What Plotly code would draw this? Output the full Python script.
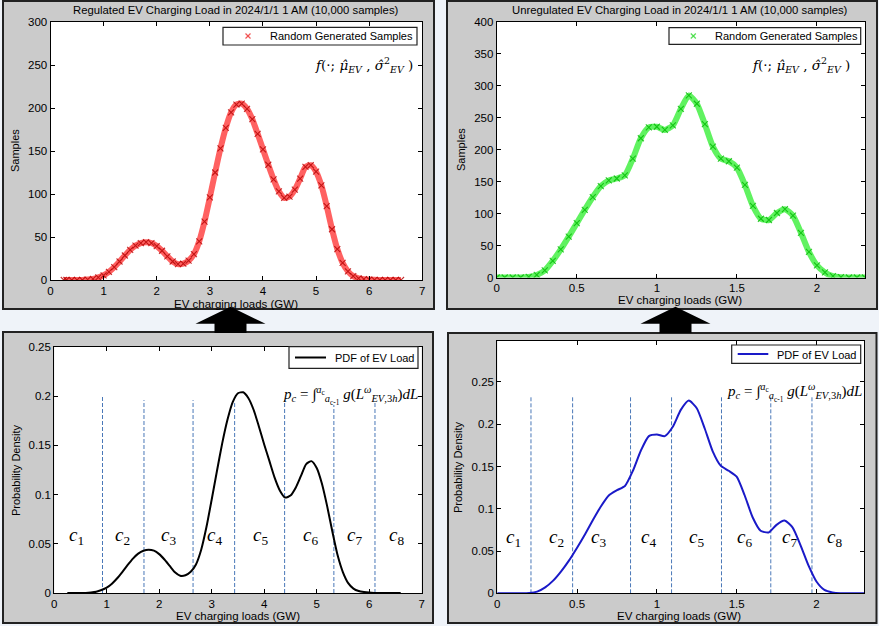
import plotly.graph_objects as go

# ---------------- data ----------------
reg_load = [0.25, 0.3, 0.4, 0.5, 0.6, 0.7, 0.8, 0.9, 1.0, 1.1, 1.2, 1.3, 1.4, 1.5, 1.6, 1.7, 1.8, 1.9,
            2.0, 2.1, 2.2, 2.3, 2.4, 2.5, 2.6, 2.7, 2.8, 2.9, 3.0, 3.1, 3.2, 3.3, 3.4, 3.5, 3.6, 3.7,
            3.8, 3.9, 4.0, 4.1, 4.2, 4.3, 4.4, 4.5, 4.6, 4.7, 4.8, 4.9, 5.0, 5.1, 5.2, 5.3, 5.4, 5.5,
            5.6, 5.7, 5.8, 5.9, 6.0, 6.1, 6.2, 6.3, 6.4, 6.5, 6.6]
reg_samples = [0, 0, 0, 0, 0, 0.5, 1.2, 3, 5.5, 9.5, 15, 21.5, 28.5, 35, 40, 43, 44, 43,
               39.5, 34, 27.5, 21.5, 18.5, 19, 22.5, 30, 45, 68, 96, 125, 153, 177, 195, 204, 205, 199,
               187, 170, 152, 134, 117, 103, 95.5, 97, 105, 118, 131.5, 133.5, 126, 110, 86, 59, 36, 20,
               10, 4.5, 2, 1, 0.5, 0.2, 0, 0, 0, 0, 0]
reg_pdf = [0, 0, 0, 0, 0, 0.0004, 0.0012, 0.003, 0.0055, 0.0095, 0.015, 0.0215, 0.0285, 0.035, 0.040, 0.043, 0.044, 0.043,
           0.0395, 0.034, 0.0275, 0.021, 0.0175, 0.018, 0.0215, 0.029, 0.044, 0.067, 0.095, 0.124, 0.152, 0.176, 0.194, 0.203, 0.204, 0.198,
           0.186, 0.169, 0.151, 0.134, 0.117, 0.104, 0.097, 0.099, 0.107, 0.119, 0.131, 0.134, 0.127, 0.111, 0.088, 0.062, 0.038, 0.021,
           0.010, 0.0045, 0.002, 0.001, 0.0004, 0.0001, 0, 0, 0, 0, 0]

unreg_load = [0.0, 0.05, 0.1, 0.15, 0.2, 0.25, 0.3, 0.35, 0.4, 0.45, 0.5, 0.55, 0.6, 0.65, 0.7, 0.75,
              0.8, 0.85, 0.9, 0.95, 1.0, 1.05, 1.1, 1.15, 1.2, 1.25, 1.3, 1.35, 1.4, 1.45, 1.5, 1.55,
              1.6, 1.65, 1.7, 1.75, 1.8, 1.85, 1.9, 1.95, 2.0, 2.05, 2.1, 2.15, 2.2, 2.25, 2.3]
unreg_samples = [0, 0, 0, 0, 1, 4, 11, 26, 44, 64, 85, 106, 126, 143, 152, 155,
                 160, 186, 218, 235, 236, 231, 238, 264, 285, 272, 240, 205, 186, 182, 172, 145,
                 112, 92, 90, 101, 107, 97, 70, 40, 19, 8, 2, 0.5, 0, 0, 0]
unreg_pdf = [0, 0, 0, 0, 0.0003, 0.002, 0.007, 0.015, 0.026, 0.039, 0.054, 0.070, 0.087, 0.103, 0.116, 0.122,
             0.127, 0.145, 0.169, 0.186, 0.188, 0.186, 0.197, 0.217, 0.228, 0.219, 0.195, 0.168, 0.151, 0.145, 0.138, 0.116,
             0.090, 0.074, 0.072, 0.081, 0.086, 0.078, 0.057, 0.033, 0.014, 0.004, 0.001, 0, 0, 0, 0]

reg_cuts = [0.92, 1.71, 2.645, 3.437, 4.389, 5.327, 6.11]
reg_cut_tops = [0.201, 0.196, 0.196, 0.193, 0.196, 0.191, 0.194]
unreg_cuts = [0.211, 0.472, 0.835, 1.092, 1.405, 1.714, 1.972]
unreg_cut_tops = [0.233, 0.233, 0.233, 0.233, 0.233, 0.233, 0.233]

cluster_names = ["1", "2", "3", "4", "5", "6", "7", "8"]
reg_label_x = [0.43, 1.31, 2.18, 3.06, 3.93, 4.88, 5.72, 6.52]
unreg_label_x = [0.10, 0.372, 0.632, 0.946, 1.249, 1.551, 1.833, 2.115]

reg_xticks = [0, 1, 2, 3, 4, 5, 6, 7]
unreg_xticks = [0, 0.5, 1, 1.5, 2]
samples_reg_yticks = [0, 50, 100, 150, 200, 250, 300]
samples_unreg_yticks = [0, 50, 100, 150, 200, 250, 300, 350, 400]
pdf_yticks = [0, 0.05, 0.1, 0.15, 0.2, 0.25]

legend_samples = "Random Generated Samples"
legend_pdf = "PDF of EV Load"

# ---------------- layout helpers ----------------
W, H = 879, 626
def px(x):
    return x / W
def py(y):
    return 1 - y / H

SANS = "Liberation Sans, Arial, sans-serif"
SERIF = "Liberation Serif, Times New Roman, serif"
MATH = "DejaVu Serif, Liberation Serif, serif"
PANEL = "#cbcbcb"
PAPER = "#eff3f9"
RED = "rgb(235,0,0)"
GREEN = "rgb(0,225,0)"

fig = go.Figure()

# top-left: regulated samples
fig.add_trace(go.Scatter(x=reg_load, y=reg_samples, mode="lines", xaxis="x", yaxis="y",
                         line=dict(color="rgba(255,0,0,0.62)", width=6, shape="spline", smoothing=0.6),
                         showlegend=False, hoverinfo="skip"))
fig.add_trace(go.Scatter(x=reg_load, y=reg_samples, mode="markers", xaxis="x", yaxis="y",
                         marker=dict(symbol="x-thin", size=6, color=RED, line=dict(color="rgba(180,0,0,0.8)", width=1.1)),
                         name=legend_samples, showlegend=False))

# top-right: unregulated samples
fig.add_trace(go.Scatter(x=unreg_load, y=unreg_samples, mode="lines", xaxis="x2", yaxis="y2",
                         line=dict(color="rgba(10,235,10,0.65)", width=6, shape="spline", smoothing=0.6),
                         showlegend=False, hoverinfo="skip"))
fig.add_trace(go.Scatter(x=unreg_load, y=unreg_samples, mode="markers", xaxis="x2", yaxis="y2",
                         marker=dict(symbol="x-thin", size=6, color=GREEN,
                                     line=dict(color="rgba(0,185,0,0.8)", width=1.1)),
                         name=legend_samples, showlegend=False))

def dashed(cuts, tops):
    xs, ys = [], []
    for c, t in zip(cuts, tops):
        xs += [c, c, None]
        ys += [0, t, None]
    return xs, ys

# bottom-left: regulated pdf
xs, ys = dashed(reg_cuts, reg_cut_tops)
fig.add_trace(go.Scatter(x=xs, y=ys, mode="lines", xaxis="x3", yaxis="y3",
                         line=dict(color="#4a78b8", width=1, dash="4px,2px"), showlegend=False))
fig.add_trace(go.Scatter(x=reg_load, y=reg_pdf, mode="lines", xaxis="x3", yaxis="y3",
                         line=dict(color="black", width=2, shape="spline", smoothing=0.6),
                         name=legend_pdf, showlegend=False))

# bottom-right: unregulated pdf
xs, ys = dashed(unreg_cuts, unreg_cut_tops)
fig.add_trace(go.Scatter(x=xs, y=ys, mode="lines", xaxis="x4", yaxis="y4",
                         line=dict(color="#4a78b8", width=1, dash="4px,2px"), showlegend=False))
fig.add_trace(go.Scatter(x=unreg_load, y=unreg_pdf, mode="lines", xaxis="x4", yaxis="y4",
                         line=dict(color="#1a1ac8", width=2, shape="spline", smoothing=0.6),
                         name=legend_pdf, showlegend=False))

def axis(dom, rng, ticks, anchor):
    return dict(domain=dom, range=rng, tickvals=ticks, anchor=anchor, showline=True, linecolor="black",
                linewidth=1, mirror="ticks", ticks="inside", ticklen=4, tickcolor="black",
                showgrid=False, zeroline=False,
                tickfont=dict(family=SANS, size=11.5, color="black"), fixedrange=True)

# plot area pixel boxes (left, top, right, bottom)
TL = (50.5, 22, 422.3, 280)
TR = (496.7, 22, 865, 277.5)
BL = (54.2, 347, 421.7, 593)
BR = (497.3, 341, 864.3, 593.3)

def xd(b):
    return [px(b[0]), px(b[2])]
def yd(b):
    return [py(b[3]), py(b[1])]

shapes = []
ann = []

def text(x, y, s, size=11, family=SANS, angle=0, xanchor="center", color="black"):
    ann.append(dict(x=px(x), y=py(y), xref="paper", yref="paper", text=s, showarrow=False,
                    font=dict(family=family, size=size, color=color), textangle=angle,
                    xanchor=xanchor, yanchor="middle"))

def seg(x0, y0, x1, y1, color, width):
    shapes.append(dict(type="line", xref="paper", yref="paper", x0=px(x0), y0=py(y0), x1=px(x1), y1=py(y1),
                       line=dict(color=color, width=width), layer="above"))

# panels
for (l, t, r, b) in [(3, 1, 434, 309), (447, 1, 877, 309), (3, 332, 433, 623), (448, 333, 876.5, 623)]:
    shapes.append(dict(type="rect", xref="paper", yref="paper", x0=px(l), x1=px(r), y0=py(b), y1=py(t),
                       fillcolor=PANEL, line=dict(color="#222222", width=2), layer="below"))
# white plot areas
for bx in [TL, TR, BL, BR]:
    shapes.append(dict(type="rect", xref="paper", yref="paper", x0=px(bx[0]), x1=px(bx[2]),
                       y0=py(bx[3]), y1=py(bx[1]), fillcolor="white", line=dict(width=0), layer="below"))

# legends (boxes drawn like the MATLAB ones)
def legend_box(l, t, r, b):
    shapes.append(dict(type="rect", xref="paper", yref="paper", x0=px(l), x1=px(r), y0=py(b), y1=py(t),
                       fillcolor="white", line=dict(color="#222222", width=1.2), layer="above"))

legend_box(223, 27.3, 417, 45)
seg(245.5, 33.5, 250.5, 38.5, "rgba(240,60,60,0.85)", 1.2)
seg(245.5, 38.5, 250.5, 33.5, "rgba(240,60,60,0.85)", 1.2)
text(268, 36.5, legend_samples, xanchor="left")

legend_box(669, 27.7, 860.7, 44.3)
seg(690.8, 33.5, 695.8, 38.5, "rgba(60,220,60,0.85)", 1.2)
seg(690.8, 38.5, 695.8, 33.5, "rgba(60,220,60,0.85)", 1.2)
text(713.3, 36.5, legend_samples, xanchor="left")

legend_box(289, 346.7, 418, 368.3)
seg(295, 357.5, 326, 357.5, "black", 2)
text(332.5, 358, legend_pdf, xanchor="left")

legend_box(731.7, 345, 860.7, 363.3)
seg(737.7, 354, 768.3, 354, "#1a1ac8", 2)
text(775, 354.5, legend_pdf, xanchor="left")

# arrows
def arrow(cx):
    pts = [(cx, 306.7), (cx + 35, 323.8), (cx + 16, 323.8), (cx + 16, 333), (cx - 16, 333),
           (cx - 16, 323.8), (cx - 35, 323.8)]
    path = "M " + " L ".join(f"{px(x):.5f},{py(y):.5f}" for x, y in pts) + " Z"
    return dict(type="path", xref="paper", yref="paper", path=path, fillcolor="black",
                line=dict(color="black", width=0), layer="above")
shapes.append(arrow(230.5))
shapes.append(arrow(675.5))

text(236, 10.5, "Regulated EV Charging Load in 2024/1/1 1 AM (10,000 samples)", size=11.3)
text(680, 10.5, "Unregulated EV Charging Load in 2024/1/1 1 AM (10,000 samples)", size=11.3)
text(236, 303.5, "EV charging loads (GW)", size=11.5)
text(680, 299.5, "EV charging loads (GW)", size=11.5)
text(238, 615.5, "EV charging loads (GW)", size=11.5)
text(679, 615.5, "EV charging loads (GW)", size=11.5)
text(15, 151, "Samples", angle=-90)
text(461, 150, "Samples", angle=-90)
text(16, 470, "Probability Density", angle=-90)
text(458, 467, "Probability Density", angle=-90)

f_txt = "<i>f</i>(·; <i>μ̂</i><sub><i>EV</i></sub> , <i>σ̂</i><sup>2</sup><sub><i>EV</i></sub> )"
text(364, 65, f_txt, size=13.5, family=MATH)
text(801, 65, f_txt, size=13.5, family=MATH)
p_txt = ("<i>p</i><sub><i>c</i></sub> = ∫<sup><i>a</i><sub>c</sub></sup><sub><i>a</i><sub>c-1</sub></sub>"
         " <i>g</i>(<i>L</i><sup><i>ω</i></sup><sub><i>EV</i>,3<i>h</i></sub>)<i>dL</i>")
text(350, 395, p_txt, size=15, family=SERIF)
text(794, 392, p_txt, size=15, family=SERIF)

for name, xv in zip(cluster_names, reg_label_x):
    ann.append(dict(x=xv, y=0.058, xref="x3", yref="y3", showarrow=False,
                    text=f"<i>c</i><sub>{name}</sub>", font=dict(family=SERIF, size=19, color="black")))
for name, xv in zip(cluster_names, unreg_label_x):
    ann.append(dict(x=xv, y=0.066, xref="x4", yref="y4", showarrow=False,
                    text=f"<i>c</i><sub>{name}</sub>", font=dict(family=SERIF, size=19, color="black")))

fig.update_layout(
    width=W, height=H, margin=dict(l=0, r=0, t=0, b=0, pad=0, autoexpand=False),
    paper_bgcolor=PAPER, plot_bgcolor="white",
    xaxis=axis(xd(TL), [0, 7], reg_xticks, "y"),
    yaxis=axis(yd(TL), [0, 300], samples_reg_yticks, "x"),
    xaxis2=axis(xd(TR), [0, 2.3], unreg_xticks, "y2"),
    yaxis2=axis(yd(TR), [0, 400], samples_unreg_yticks, "x2"),
    xaxis3=axis(xd(BL), [0, 7], reg_xticks, "y3"),
    yaxis3=axis(yd(BL), [0, 0.25], pdf_yticks, "x3"),
    xaxis4=axis(xd(BR), [0, 2.3], unreg_xticks, "y4"),
    yaxis4=axis(yd(BR), [0, 0.2985], pdf_yticks, "x4"),
    shapes=shapes, annotations=ann, showlegend=False,
)

fig.write_html("out.html")
